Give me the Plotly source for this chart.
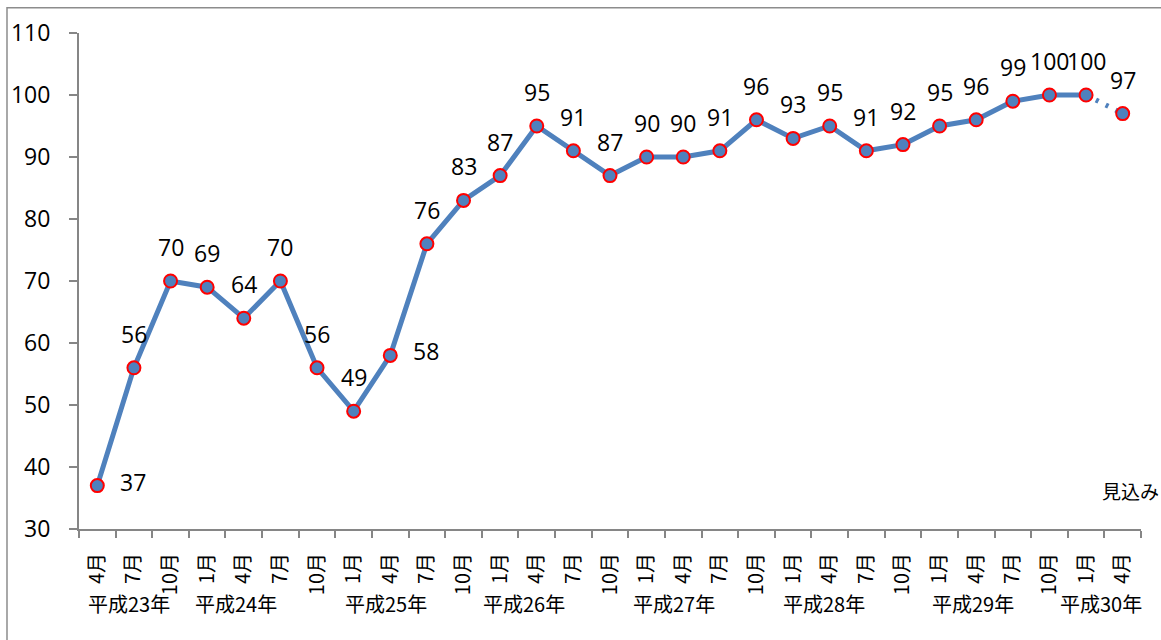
import plotly.graph_objects as go

months = ["4月", "7月", "10月", "1月", "4月", "7月", "10月", "1月", "4月", "7月",
          "10月", "1月", "4月", "7月", "10月", "1月", "4月", "7月", "10月", "1月",
          "4月", "7月", "10月", "1月", "4月", "7月", "10月", "1月", "4月"]
values = [37, 56, 70, 69, 64, 70, 56, 49, 58, 76,
          83, 87, 95, 91, 87, 90, 90, 91, 96, 93,
          95, 91, 92, 95, 96, 99, 100, 100, 97]
# last value is an estimate (見込み)
n_actual = 28
years = ["平成23年", "平成24年", "平成25年", "平成26年", "平成27年", "平成28年", "平成29年", "平成30年"]
year_pos = [0.87, 3.79, 7.89, 11.66, 15.76, 19.83, 23.9, 27.42]
right_labels = {0, 8}  # labels drawn at the right of the point

x = list(range(len(values)))
BLUE = "#4F81BD"
NUMFONT = "Open Sans, Noto Sans CJK JP, sans-serif"
JPFONT = "Noto Sans CJK JP, sans-serif"
AXIS = "#868686"

fig = go.Figure()
fig.add_trace(go.Scatter(x=x[:n_actual], y=values[:n_actual], mode="lines",
                         line=dict(color=BLUE, width=5), hoverinfo="skip"))
fig.add_trace(go.Scatter(x=x[n_actual - 1:], y=values[n_actual - 1:], mode="lines",
                         line=dict(color=BLUE, width=5, dash="3px,8px"), hoverinfo="skip"))
fig.add_trace(go.Scatter(x=x, y=values, mode="markers",
                         marker=dict(color=BLUE, size=13, line=dict(color="#FF0000", width=2))))

annotations = []
for i, v in enumerate(values):
    if i in right_labels:
        annotations.append(dict(x=i, y=v, text=str(v), showarrow=False, xshift=36, yshift=4,
                                font=dict(size=23, color="#000", family=NUMFONT)))
    else:
        annotations.append(dict(x=i, y=v, text=str(v), showarrow=False, yshift=34,
                                font=dict(size=23, color="#000", family=NUMFONT)))
for yr, p in zip(years, year_pos):
    annotations.append(dict(x=p, xref="x", y=-0.15, yref="paper", yanchor="middle", text=yr,
                            showarrow=False, font=dict(size=20, color="#000", family=JPFONT)))
annotations.append(dict(x=1.0185, xref="paper", xanchor="right", y=36.2, yref="y", yanchor="middle",
                        text="見込み", showarrow=False, font=dict(size=19, color="#000", family=JPFONT)))

fig.update_layout(
    width=1161, height=640, autosize=False,
    margin=dict(l=79, r=20, t=33, b=111),
    plot_bgcolor="white", paper_bgcolor="white",
    showlegend=False,
    annotations=annotations,
    shapes=[dict(type="rect", xref="paper", yref="paper", x0=-0.0678, x1=1.3, y0=-0.6, y1=1.051,
                 line=dict(color="#8c8c8c", width=1.5), layer="below")],
    xaxis=dict(range=[-0.5, len(values) - 0.5], tickmode="array", tickvals=x, ticktext=months,
               tickangle=-90, ticks="", showgrid=False, zeroline=False, automargin=False,
               showline=True, linecolor=AXIS, linewidth=2, ticklabelstandoff=14,
               tickfont=dict(size=20, color="#000", family=JPFONT),
               minor=dict(tick0=-0.5, dtick=1, ticks="outside", ticklen=7, tickcolor=AXIS,
                          tickwidth=2, showgrid=False)),
    yaxis=dict(range=[30, 110], tickmode="array", tickvals=list(range(30, 111, 10)),
               ticks="outside", ticklen=8, tickcolor=AXIS, tickwidth=2, showgrid=False,
               zeroline=False, showline=True, linecolor=AXIS, linewidth=2, automargin=False,
               ticklabelstandoff=14, tickfont=dict(size=23, color="#000", family=NUMFONT)),
)
fig.write_html("out.html")
